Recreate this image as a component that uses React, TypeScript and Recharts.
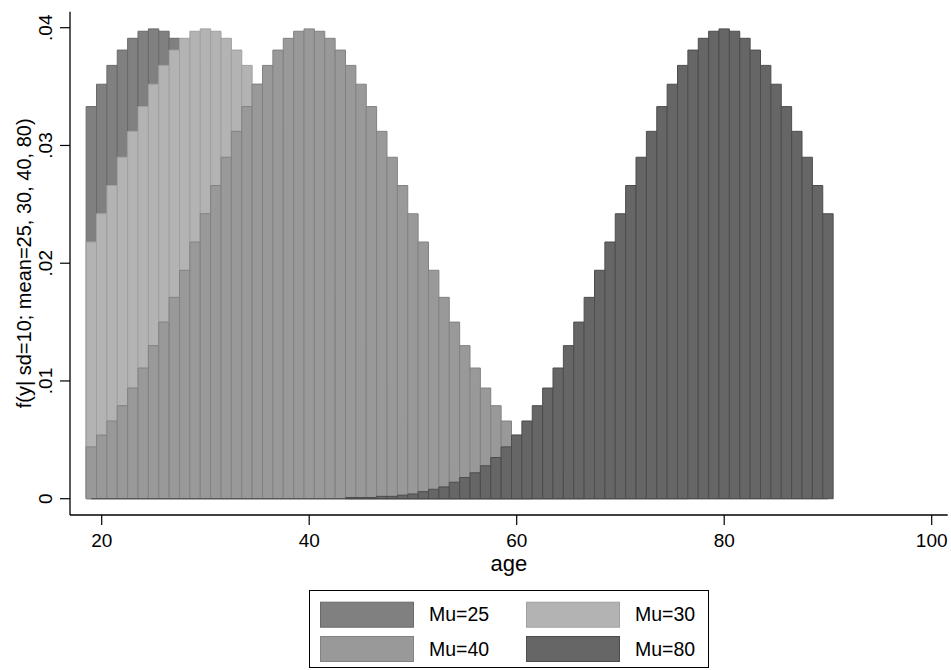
import { BarChart, Bar, XAxis, YAxis, Legend, ReferenceLine } from "recharts";

// ages on the category axis (bars from 19 to 90, axis runs to 100)
const ages = [
  19, 20, 21, 22, 23, 24, 25, 26, 27, 28, 29, 30, 31, 32, 33, 34, 35, 36, 37, 38,
  39, 40, 41, 42, 43, 44, 45, 46, 47, 48, 49, 50, 51, 52, 53, 54, 55, 56, 57, 58,
  59, 60, 61, 62, 63, 64, 65, 66, 67, 68, 69, 70, 71, 72, 73, 74, 75, 76, 77, 78,
  79, 80, 81, 82, 83, 84, 85, 86, 87, 88, 89, 90, 91, 92, 93, 94, 95, 96, 97, 98,
  99, 100,
];

// densities, ages 19..90
const mu25 = [
  0.0333, 0.0352, 0.0368, 0.0381, 0.0391, 0.0397, 0.0399, 0.0397, 0.0391, 0.0381,
  0.0368, 0.0352, 0.0333, 0.0312, 0.029, 0.0266, 0.0242, 0.0218, 0.0194, 0.0171,
  0.015, 0.013, 0.0111, 0.0094, 0.0079, 0.0066, 0.0054, 0.0044, 0.0035, 0.0028,
  0.0022, 0.0018, 0.0014, 0.001, 0.0008, 0.0006, 0.0004, 0.0003, 0.0002, 0.0002,
  0.0001, 0.0001, 0.0001, 0, 0, 0, 0, 0, 0, 0,
  0, 0, 0, 0, 0, 0, 0, 0, 0, 0,
  0, 0, 0, 0, 0, 0, 0, 0, 0, 0,
  0, 0,
];
const mu30 = [
  0.0218, 0.0242, 0.0266, 0.029, 0.0312, 0.0333, 0.0352, 0.0368, 0.0381, 0.0391,
  0.0397, 0.0399, 0.0397, 0.0391, 0.0381, 0.0368, 0.0352, 0.0333, 0.0312, 0.029,
  0.0266, 0.0242, 0.0218, 0.0194, 0.0171, 0.015, 0.013, 0.0111, 0.0094, 0.0079,
  0.0066, 0.0054, 0.0044, 0.0035, 0.0028, 0.0022, 0.0018, 0.0014, 0.001, 0.0008,
  0.0006, 0.0004, 0.0003, 0.0002, 0.0002, 0.0001, 0.0001, 0.0001, 0, 0,
  0, 0, 0, 0, 0, 0, 0, 0, 0, 0,
  0, 0, 0, 0, 0, 0, 0, 0, 0, 0,
  0, 0,
];
const mu40 = [
  0.0044, 0.0054, 0.0066, 0.0079, 0.0094, 0.0111, 0.013, 0.015, 0.0171, 0.0194,
  0.0218, 0.0242, 0.0266, 0.029, 0.0312, 0.0333, 0.0352, 0.0368, 0.0381, 0.0391,
  0.0397, 0.0399, 0.0397, 0.0391, 0.0381, 0.0368, 0.0352, 0.0333, 0.0312, 0.029,
  0.0266, 0.0242, 0.0218, 0.0194, 0.0171, 0.015, 0.013, 0.0111, 0.0094, 0.0079,
  0.0066, 0.0054, 0.0044, 0.0035, 0.0028, 0.0022, 0.0018, 0.0014, 0.001, 0.0008,
  0.0006, 0.0004, 0.0003, 0.0002, 0.0002, 0.0001, 0.0001, 0.0001, 0, 0,
  0, 0, 0, 0, 0, 0, 0, 0, 0, 0,
  0, 0,
];
const mu80 = [
  0, 0, 0, 0, 0, 0, 0, 0, 0, 0,
  0, 0, 0, 0, 0, 0, 0, 0, 0, 0,
  0, 0, 0, 0, 0, 0.0001, 0.0001, 0.0001, 0.0002, 0.0002,
  0.0003, 0.0004, 0.0006, 0.0008, 0.001, 0.0014, 0.0018, 0.0022, 0.0028, 0.0035,
  0.0044, 0.0054, 0.0066, 0.0079, 0.0094, 0.0111, 0.013, 0.015, 0.0171, 0.0194,
  0.0218, 0.0242, 0.0266, 0.029, 0.0312, 0.0333, 0.0352, 0.0368, 0.0381, 0.0391,
  0.0397, 0.0399, 0.0397, 0.0391, 0.0381, 0.0368, 0.0352, 0.0333, 0.0312, 0.029,
  0.0266, 0.0242,
];

const seriesKeys = ["mu25", "mu30", "mu40", "mu80"];
const seriesNames = ["Mu=25", "Mu=30", "Mu=40", "Mu=80"];
const xTicks = [20, 40, 60, 80, 100];
const yTicks = [0, 0.01, 0.02, 0.03, 0.04];

const FILLS = ["#808080", "#b3b3b3", "#999999", "#666666"];
const STROKES = ["#696969", "#a0a0a0", "#828282", "#4d4d4d"];
const FONT = '"Liberation Sans", Arial, Helvetica, sans-serif';
const Y_DOMAIN: [number, number] = [-0.001384, 0.04136];
const X_PAD = { left: 16.14, right: 10.81 };
const AXIS_LINE = { stroke: "#000", strokeWidth: 1.3 };

const data = ages.map((age, i) => ({
  age,
  mu25: i < mu25.length ? mu25[i] : null,
  mu30: i < mu30.length ? mu30[i] : null,
  mu40: i < mu40.length ? mu40[i] : null,
  mu80: i < mu80.length ? mu80[i] : null,
}));

function fmtY(v: number) {
  if (v === 0) return "0";
  return v.toFixed(2).replace(/^0/, "");
}

function XTick(props: any) {
  const { x, y, payload } = props;
  return (
    <text x={x} y={y + 22} textAnchor="middle" fontSize={19} fontFamily={FONT} fill="#000">
      {payload.value}
    </text>
  );
}

function YTick(props: any) {
  const { x, y, payload } = props;
  return (
    <text
      transform={`translate(${x},${y}) rotate(-90)`}
      textAnchor="middle"
      fontSize={19}
      fontFamily={FONT}
      fill="#000"
    >
      {fmtY(payload.value)}
    </text>
  );
}

function YTitle(props: any) {
  const vb = props.viewBox;
  const cy = vb.y + vb.height / 2;
  return (
    <text
      transform={`translate(${vb.x + 31},${cy}) rotate(-90)`}
      textAnchor="middle"
      fontSize={20}
      fontFamily={FONT}
      fill="#000"
    >
      f(y| sd=10; mean=25, 30, 40, 80)
    </text>
  );
}

function XTitle(props: any) {
  const vb = props.viewBox;
  return (
    <text
      x={vb.x + vb.width / 2}
      y={vb.y + 56}
      textAnchor="middle"
      fontSize={22}
      fontFamily={FONT}
      fill="#000"
    >
      age
    </text>
  );
}

function LegendBox() {
  const cols = [11, 217];
  const rows = [11.7, 46];
  return (
    <svg width={400} height={78} style={{ display: "block" }}>
      <rect x={0.5} y={0.5} width={399} height={77} fill="#fff" stroke="#000" strokeWidth={1} />
      {seriesNames.map((name, i) => {
        const cx = cols[i % 2];
        const ry = rows[Math.floor(i / 2)];
        return (
          <g key={name}>
            <rect
              x={cx + 0.5}
              y={ry + 0.5}
              width={93}
              height={25}
              fill={FILLS[i]}
              stroke={STROKES[i]}
              strokeWidth={1}
            />
            <text x={cx + 109} y={ry + 19.5} fontSize={19.5} fontFamily={FONT} fill="#000">
              {name}
            </text>
          </g>
        );
      })}
    </svg>
  );
}

export default function App() {
  return (
    <div style={{ position: "absolute", left: 0, top: 0, background: "#fff" }}>
      <BarChart
        width={951}
        height={670}
        data={data}
        margin={{ top: 11.7, right: 3.3, bottom: 95, left: 0 }}
      >
        <XAxis
          xAxisId="a25"
          dataKey="age"
          type="category"
          ticks={xTicks}
          interval={0}
          padding={X_PAD}
          height={60}
          tickSize={10}
          tickMargin={0}
          tick={XTick}
          axisLine={AXIS_LINE}
          tickLine={{ stroke: "#000", strokeWidth: 1.2 }}
          label={XTitle}
        />
        <XAxis xAxisId="a30" dataKey="age" type="category" padding={X_PAD} hide />
        <XAxis xAxisId="a40" dataKey="age" type="category" padding={X_PAD} hide />
        <XAxis xAxisId="a80" dataKey="age" type="category" padding={X_PAD} hide />
        <XAxis
          xAxisId="top"
          orientation="top"
          dataKey="age"
          type="category"
          padding={X_PAD}
          height={0}
          tick={false}
          tickLine={false}
          axisLine={AXIS_LINE}
        />
        <YAxis
          type="number"
          domain={Y_DOMAIN}
          allowDataOverflow
          ticks={yTicks}
          interval={0}
          width={70}
          tickSize={10}
          tickMargin={8}
          tick={YTick}
          axisLine={AXIS_LINE}
          tickLine={{ stroke: "#000", strokeWidth: 1.2 }}
          label={YTitle}
        />
        <YAxis
          yAxisId="r"
          orientation="right"
          type="number"
          domain={Y_DOMAIN}
          allowDataOverflow
          width={0}
          tick={false}
          tickLine={false}
          axisLine={AXIS_LINE}
        />
        {seriesKeys.map((k, i) => (
          <Bar
            key={k}
            xAxisId={"a" + k.slice(2)}
            dataKey={k}
            name={seriesNames[i]}
            fill={FILLS[i]}
            stroke={STROKES[i]}
            strokeWidth={1}
            barSize={10.37}
            isAnimationActive={false}
          />
        ))}
        <ReferenceLine
          xAxisId="a80"
          segment={[
            { x: 19, y: 0 },
            { x: 90, y: 0 },
          ]}
          stroke="#4d4d4d"
          strokeWidth={1}
        />
        <Legend
          layout="horizontal"
          verticalAlign="middle"
          align="center"
          content={() => <LegendBox />}
          wrapperStyle={{ left: 309, top: 590, width: 400, height: 78 }}
        />
      </BarChart>
    </div>
  );
}
